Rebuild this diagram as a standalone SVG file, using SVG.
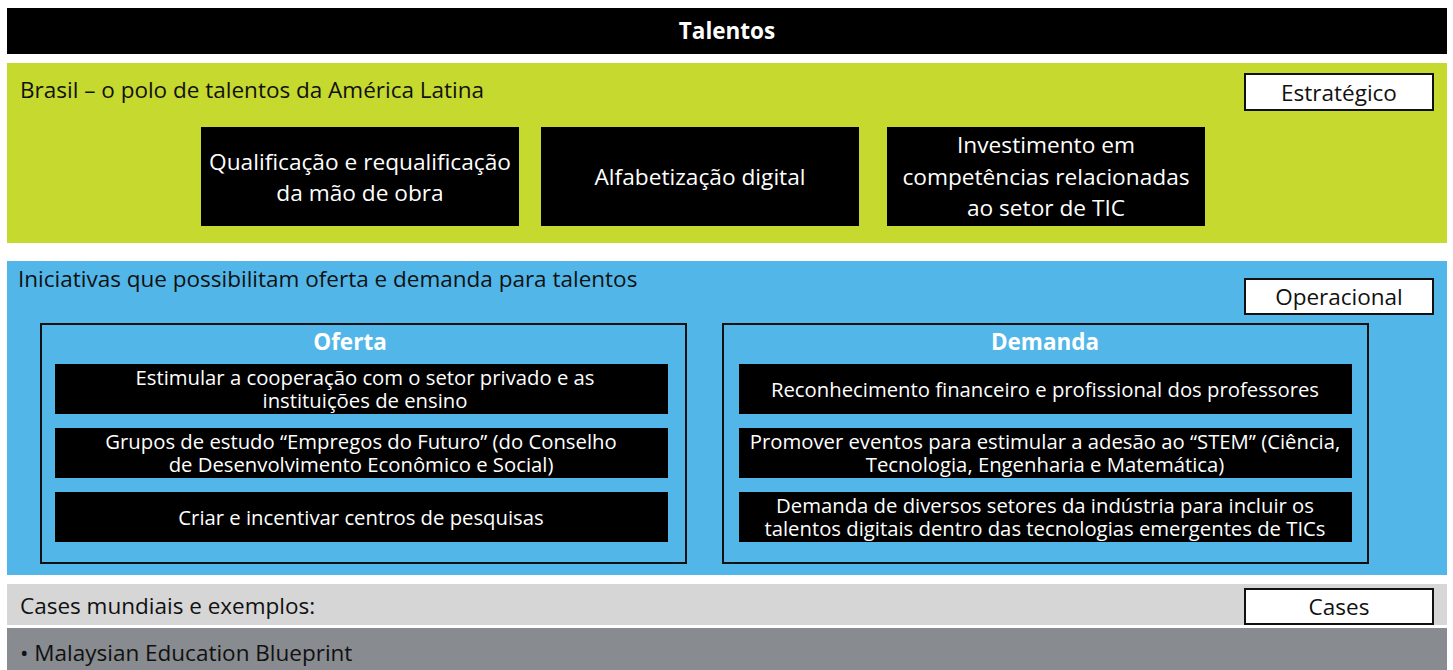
<svg xmlns="http://www.w3.org/2000/svg" width="1453" height="670" viewBox="0 0 1453 670">
<style>
text{font-family:"Open Sans","Noto Sans","Liberation Sans",sans-serif}
.blk{fill:#000}
.wt{fill:#fff;text-anchor:middle}
.lbl{fill:#111;font-size:22.5px}
.tag{fill:#fff;stroke:#111;stroke-width:2}
.tagt{fill:#111;font-size:22.5px;text-anchor:middle}
.big{font-size:22.7px}
.sm{font-size:20.3px}
.frame{fill:none;stroke:#111;stroke-width:2}
.hd{fill:#fff;font-size:22.5px;font-weight:bold;text-anchor:middle}
</style>
<rect width="1453" height="670" fill="#fff"/>
<g id="title">
<rect x="7" y="8" width="1440" height="46" class="blk"/>
<text x="727" y="39" class="hd">Talentos</text>
</g>
<g id="estrategico">
<rect x="7" y="63" width="1440" height="180" fill="#c6d92e"/>
<text x="20" y="98" class="lbl">Brasil – o polo de talentos da América Latina</text>
<rect x="1245" y="74" width="188" height="36" class="tag"/>
<text x="1339" y="101" class="tagt">Estratégico</text>
</g>
<g id="s1">
<rect x="201" y="127" width="318" height="99" class="blk"/>
<text class="wt big"><tspan x="360" y="170">Qualificação e requalificação</tspan><tspan x="360" y="201">da mão de obra</tspan></text>
</g>
<g id="s2">
<rect x="541" y="127" width="318" height="99" class="blk"/>
<text x="700" y="185" class="wt big">Alfabetização digital</text>
</g>
<g id="s3">
<rect x="887" y="127" width="318" height="99" class="blk"/>
<text class="wt big"><tspan x="1046" y="153">Investimento em</tspan><tspan x="1046" y="185">competências relacionadas</tspan><tspan x="1046" y="216">ao setor de TIC</tspan></text>
</g>
<g id="operacional">
<rect x="7" y="261" width="1440" height="314" fill="#52b7e8"/>
<text x="18" y="287" class="lbl">Iniciativas que possibilitam oferta e demanda para talentos</text>
<rect x="1245" y="279" width="188" height="35" class="tag"/>
<text x="1339" y="305" class="tagt">Operacional</text>
</g>
<g id="oferta">
<rect x="41" y="324" width="645" height="239" class="frame"/>
<text x="350" y="350" class="hd">Oferta</text>
</g>
<g id="o1">
<rect x="55" y="364" width="613" height="50" class="blk"/>
<text class="wt sm"><tspan x="365" y="385">Estimular a cooperação com o setor privado e as</tspan><tspan x="365" y="408">instituições de ensino</tspan></text>
</g>
<g id="o2">
<rect x="55" y="428" width="613" height="50" class="blk"/>
<text class="wt sm"><tspan x="361" y="449">Grupos de estudo “Empregos do Futuro” (do Conselho</tspan><tspan x="361" y="472">de Desenvolvimento Econômico e Social)</tspan></text>
</g>
<g id="o3">
<rect x="55" y="492" width="613" height="50" class="blk"/>
<text x="361" y="525" class="wt sm">Criar e incentivar centros de pesquisas</text>
</g>
<g id="demanda">
<rect x="723" y="324" width="645" height="239" class="frame"/>
<text x="1045" y="350" class="hd">Demanda</text>
</g>
<g id="d1">
<rect x="739" y="364" width="613" height="50" class="blk"/>
<text x="1045" y="397" class="wt sm">Reconhecimento financeiro e profissional dos professores</text>
</g>
<g id="d2">
<rect x="739" y="428" width="613" height="50" class="blk"/>
<text class="wt sm"><tspan x="1045" y="449">Promover eventos para estimular a adesão ao “STEM” (Ciência,</tspan><tspan x="1045" y="472">Tecnologia, Engenharia e Matemática)</tspan></text>
</g>
<g id="d3">
<rect x="739" y="492" width="613" height="50" class="blk"/>
<text class="wt sm"><tspan x="1045" y="513">Demanda de diversos setores da indústria para incluir os</tspan><tspan x="1045" y="536">talentos digitais dentro das tecnologias emergentes de TICs</tspan></text>
</g>
<g id="cases">
<rect x="7" y="584" width="1440" height="41" fill="#d6d6d6"/>
<text x="20" y="614" class="lbl">Cases mundiais e exemplos:</text>
<rect x="1245" y="589" width="188" height="35" class="tag"/>
<text x="1339" y="615" class="tagt">Cases</text>
</g>
<g id="exemplos">
<rect x="7" y="628" width="1440" height="42" fill="#888b8f"/>
<text x="20" y="661" class="lbl">• Malaysian Education Blueprint</text>
</g>
<g id="connectors"/>
</svg>
